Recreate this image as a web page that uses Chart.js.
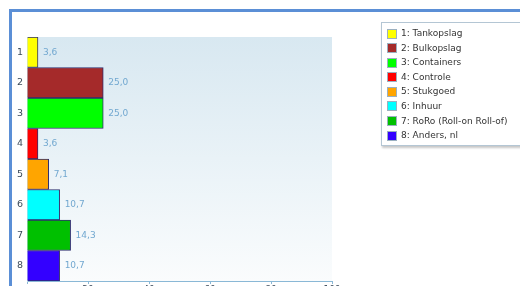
<!DOCTYPE html>
<html>
<head>
<meta charset="utf-8">
<script src="https://cdn.jsdelivr.net/npm/chart.js@4"></script>
<style>
  body { margin: 0; background: #fff; width: 520px; height: 286px; overflow: hidden; position: relative; font-family: "DejaVu Sans", sans-serif; }
  #frame { position: absolute; left: 9px; top: 9px; width: 540px; height: 320px; border-left: 3px solid #5b8fd6; border-top: 3px solid #5b8fd6; }
  #wrap { position: absolute; left: 0; top: 0; width: 520px; height: 286px; overflow: hidden; }
  #legend { position: absolute; left: 381px; top: 22px; width: 160px; height: 124px; background: #fff;
            border: 1px solid #b4c6d4; box-shadow: 1px 2px 2px rgba(0,0,0,0.22); box-sizing: border-box; padding-top: 3px; }
  .item { height: 14.6px; line-height: 14.6px; font-size: 9px; color: #333; white-space: nowrap; position: relative; padding-left: 19px; }
  .sw { position: absolute; left: 5px; top: 2.5px; width: 8px; height: 8px; border: 1px solid #9bb0c0; }
</style>
</head>
<body>
<div id="frame"></div>
<div id="wrap"><canvas id="graph" width="520" height="300"></canvas></div>
<div id="legend"></div>
<script>
const categories = ['1', '2', '3', '4', '5', '6', '7', '8']
const legendNames = ['1: Tankopslag', '2: Bulkopslag', '3: Containers', '4: Controle', '5: Stukgoed', '6: Inhuur', '7: RoRo (Roll-on Roll-of)', '8: Anders, nl']
const values = [3.6, 25.0, 25.0, 3.6, 7.1, 10.7, 14.3, 10.7]
const barColors = ['#ffff00', '#a52a2a', '#00ff00', '#ff0000', '#ffa500', '#00ffff', '#00c000', '#3300ff']
const xTicks = [0, 20, 40, 60, 80, 100]

const axisBlue = '#8ab8d6'
const labelBlue = '#72a8d0'
const tickGrey = '#3a4a5a'

// legend as html
const legend = document.getElementById('legend')
legendNames.forEach((name, i) => {
    const row = document.createElement('div')
    row.className = 'item'
    row.innerHTML = '<span class="sw" style="background:' + barColors[i] + '"></span>' + name
    legend.appendChild(row)
})

//plot area gradient
const plotBackground = {
    id: 'plotBackground',
    beforeDraw(chart) {
        const {ctx, chartArea} = chart
        const g = ctx.createLinearGradient(0, chartArea.top, 0, chartArea.bottom)
        g.addColorStop(0, '#d8e8f1')
        g.addColorStop(1, '#fafcfd')
        ctx.save()
        ctx.fillStyle = g
        ctx.fillRect(chartArea.left, chartArea.top, chartArea.right - chartArea.left, chartArea.bottom - chartArea.top)
        ctx.restore()
    }
}

//value labels right of bars
const valueLabels = {
    id: 'valueLabels',
    afterDatasetsDraw(chart) {
        const {ctx} = chart
        const meta = chart.getDatasetMeta(0)
        ctx.save()
        ctx.font = '9px "DejaVu Sans"'
        ctx.fillStyle = labelBlue
        ctx.textBaseline = 'middle'
        meta.data.forEach((bar, i) => {
            ctx.fillText(values[i].toFixed(1).replace('.', ','), bar.x + 5, bar.y)
        })
        ctx.restore()
    }
}

new Chart(document.getElementById('graph'), {
    type: 'bar',
    data: {
        labels: categories,
        datasets: [{
            data: values,
            backgroundColor: barColors,
            borderColor: '#2e2e6e',
            borderWidth: 1,
            barPercentage: 1,
            categoryPercentage: 1,
        }]
    },
    options: {
        indexAxis: 'y',
        responsive: false,
        animation: false,
        layout: { padding: { left: 10, top: 37, right: 188, bottom: 0 } },
        plugins: { legend: { display: false }, tooltip: { enabled: false } },
        scales: {
            x: {
                type: 'linear',
                min: 0,
                max: 100,
                afterBuildTicks: (axis) => { axis.ticks = xTicks.map(v => ({value: v})) },
                afterFit: (axis) => { axis.height = 19 },
                ticks: { color: tickGrey, font: { size: 9, family: 'DejaVu Sans' }, padding: 0,
                         callback: (v) => v === 0 ? '' : v },
                grid: { drawOnChartArea: false, color: axisBlue, tickLength: 3 },
                border: { color: axisBlue, width: 1 }
            },
            y: {
                afterFit: (axis) => { axis.width = 17 },
                ticks: { color: tickGrey, font: { size: 9.5, family: 'DejaVu Sans' }, padding: 4 },
                grid: { display: false, drawTicks: false, tickLength: 0 },
                border: { color: '#c4dbe8', width: 1 }
            }
        }
    },
    plugins: [plotBackground, valueLabels]
})
</script>
</body>
</html>
